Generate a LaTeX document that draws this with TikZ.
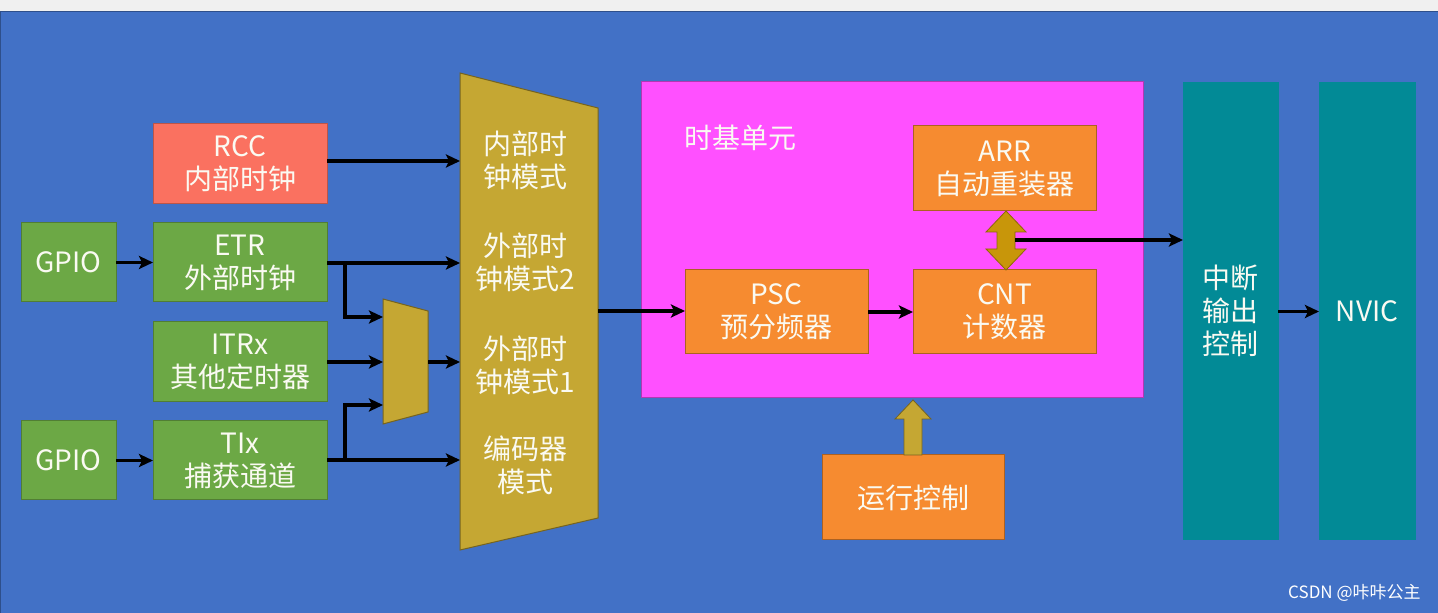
\documentclass[tikz,border=0pt]{standalone}
\usepackage{fontspec}
\setmainfont{Noto Sans CJK SC}
\usetikzlibrary{arrows.meta}
\definecolor{bgblue}{HTML}{4271C6}
\definecolor{topgrey}{HTML}{F0F0F0}
\definecolor{rccred}{HTML}{FA7160}
\definecolor{boxgreen}{HTML}{6CA845}
\definecolor{muxgold}{HTML}{C5A733}
\definecolor{tbpink}{HTML}{FF50FF}
\definecolor{boxorange}{HTML}{F68B30}
\definecolor{colteal}{HTML}{028A96}
\definecolor{dblgold}{HTML}{C8960A}
\definecolor{txtwhite}{HTML}{FAFAF2}
\tikzset{
  blk/.style={rectangle, inner sep=0pt, outer sep=0pt, align=center, text=txtwhite,
    font=\fontsize{14}{16.5}\selectfont, line width=0.5pt},
  gbox/.style={blk, fill=boxgreen, draw=boxgreen!75!black},
  rbox/.style={blk, fill=rccred, draw=rccred!75!black},
  obox/.style={blk, fill=boxorange, draw=boxorange!70!black},
  tcol/.style={blk, fill=colteal, draw=colteal},
  arr/.style={line width=1.8pt, black, -{Stealth[length=7pt,width=6.5pt,inset=1.5pt]}},
  muxtxt/.style={inner sep=0pt, align=center, text=txtwhite, font=\fontsize{14}{16.5}\selectfont},
}
\begin{document}
\begin{tikzpicture}[x=0.5pt,y=-0.5pt]
\useasboundingbox (0,0) rectangle (1438,613);
\fill[topgrey] (0,0) rectangle (1438,11);
\fill[bgblue] (0,11) rectangle (1438,613);
\draw[bgblue!70!black, line width=0.6pt] (0.5,613) -- (0.5,11.5) -- (1438,11.5);

% left boxes
\node[rbox, minimum width=87pt, minimum height=40pt] (rcc) at (240,164) {RCC\\内部时钟};
\node[gbox, minimum width=47.5pt, minimum height=39.5pt] (gpio1) at (68.5,262.5) {GPIO};
\node[gbox, minimum width=87pt, minimum height=39.5pt] (etr) at (240,262.5) {ETR\\外部时钟};
\node[gbox, minimum width=87pt, minimum height=40pt] (itr) at (240,362) {ITRx\\其他定时器};
\node[gbox, minimum width=47.5pt, minimum height=39.5pt] (gpio2) at (68.5,460.5) {GPIO};
\node[gbox, minimum width=87pt, minimum height=39.5pt] (tix) at (240,460.5) {TIx\\捕获通道};

% big mux
\fill[muxgold, draw=muxgold!60!black, line width=0.5pt] (460,73) -- (598,108) -- (598,518) -- (460,550) -- cycle;
\coordinate (bm1) at (460,161);
\coordinate (bm2) at (460,263);
\coordinate (bm3) at (460,362);
\coordinate (bm4) at (460,460);
\coordinate (bmout) at (598,311);
\node[muxtxt] (mt1) at (525,160) {内部时\\钟模式};
\node[muxtxt] (mt2) at (525,262) {外部时\\钟模式2};
\node[muxtxt] (mt3) at (525,365) {外部时\\钟模式1};
\node[muxtxt] (mt4) at (525,465) {编码器\\模式};

% small mux
\fill[muxgold, draw=muxgold!60!black, line width=0.5pt] (383,299) -- (428,311) -- (428,412) -- (383,424) -- cycle;
\coordinate (sm1) at (383,317);
\coordinate (sm2) at (383,362);
\coordinate (sm3) at (383,405);
\coordinate (smout) at (428,362);
\coordinate (j1) at (345,263);
\coordinate (j2) at (345,460);

% time base unit
\node[blk, fill=tbpink, draw=tbpink!70!black, minimum width=251pt, minimum height=158pt] (tb) at (892,240) {};
\node[inner sep=0pt, anchor=west, text=txtwhite, font=\fontsize{14}{16.5}\selectfont] (tbl) at (684,138) {时基单元};
\node[obox, minimum width=91.5pt, minimum height=42.5pt] (arr) at (1004.5,168.5) {ARR\\自动重装器};
\node[obox, minimum width=91.5pt, minimum height=42pt] (psc) at (776.5,312) {PSC\\预分频器};
\node[obox, minimum width=91.5pt, minimum height=42pt] (cnt) at (1004.5,312) {CNT\\计数器};

% double arrow ARR <-> CNT
\fill[dblgold, draw=dblgold!70!black, line width=0.4pt]
  (1006,211) -- (1026,232) -- (1015,232) -- (1015,249) -- (1026,249) -- (1006,270)
  -- (986,249) -- (997,249) -- (997,232) -- (986,232) -- cycle;
\coordinate (dbl) at (1015,240);

% columns
\node[tcol, minimum width=47.5pt, minimum height=228.5pt] (irq) at (1230.5,311.5) {};
\node[muxtxt] (irqt) at (1230,311) {中断\\输出\\控制};
\node[tcol, minimum width=48pt, minimum height=228.5pt] (nvic) at (1367,311.5) {NVIC};

% run control
\node[obox, minimum width=91pt, minimum height=42.5pt] (run) at (913,497.5) {运行控制};
\fill[muxgold, draw=muxgold!60!black, line width=0.4pt]
  (913,400) -- (931,419) -- (922,419) -- (922,455) -- (904,455) -- (904,419) -- (895,419) -- cycle;

% connectors
\draw[arr] (rcc.east |- bm1) -- (bm1);
\draw[arr] (gpio1.east) -- (etr.west);
\draw[arr] (etr.east |- bm2) -- (bm2);
\draw[arr] (j1) |- (sm1);
\draw[arr] (itr.east |- sm2) -- (sm2);
\draw[arr] (j2) |- (sm3);
\draw[arr] (gpio2.east) -- (tix.west);
\draw[arr] (tix.east |- bm4) -- (bm4);
\draw[arr] (smout) -- (bm3);
\draw[arr] (bmout) -- (psc.west |- bmout);
\draw[arr] (psc.east) -- (cnt.west);
\draw[arr] (dbl) -- (irq.west |- dbl);
\draw[arr] (irq.east |- nvic.west) -- (nvic.west);

% watermark
\node[inner sep=0pt, anchor=east, text=white, font=\fontsize{8.5}{10}\selectfont] (wm) at (1421,593) {CSDN @咔咔公主};
\end{tikzpicture}
\end{document}
